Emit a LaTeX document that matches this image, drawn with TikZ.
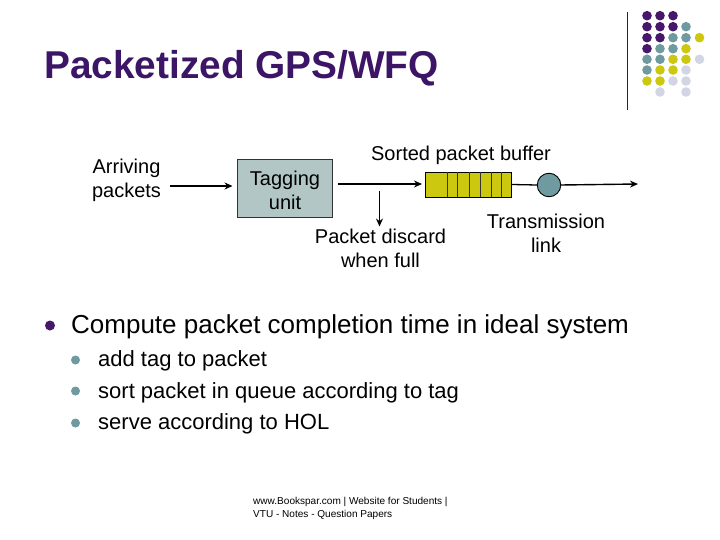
\documentclass[tikz,border=0pt]{standalone}
\usepackage{fontspec}
\setmainfont{Liberation Sans}
\usetikzlibrary{arrows.meta}
\definecolor{dpurple}{HTML}{47176B}
\definecolor{dteal}{HTML}{6F9A9F}
\definecolor{dyellow}{HTML}{CCC80F}
\definecolor{dlav}{HTML}{D3D5E5}
\definecolor{boxfill}{HTML}{B2C6C6}
\definecolor{titlecol}{HTML}{3D1566}
\tikzset{
  x=1pt,y=-1pt,
  label text/.style={align=center,font=\fontsize{20}{24}\selectfont,inner sep=0pt,text=black},
  flow/.style={line width=1.4pt,-{Stealth[length=8pt,width=7pt]}},
  plain line/.style={line width=1.3pt},
  dotp/.style={circle,fill=dpurple,minimum size=9.6pt,inner sep=0pt},
  dott/.style={circle,fill=dteal,minimum size=9.6pt,inner sep=0pt},
  doty/.style={circle,fill=dyellow,minimum size=9.6pt,inner sep=0pt},
  dotl/.style={circle,fill=dlav,minimum size=9.6pt,inner sep=0pt},
  body/.style={anchor=base west,inner sep=0pt,font=\fontsize{26}{30}\selectfont},
  sub/.style={anchor=base west,inner sep=0pt,font=\fontsize{22}{26}\selectfont},
}
\begin{document}
\begin{tikzpicture}
\useasboundingbox (0,0) rectangle (720,540);
\fill[white] (0,0) rectangle (720,540);
% decoration
\foreach \c/\r/\s in {647/15.7/dotp,660/15.7/dotp,673/15.7/dotp,
 647/26.7/dotp,660/26.7/dotp,673/26.7/dotp,686/26.7/dott,
 647/37.7/dotp,660/37.7/dotp,673/37.7/dott,686/37.7/dott,699.5/37.7/doty,
 647/48.7/dotp,660/48.7/dott,673/48.7/dott,686/48.7/doty,
 647/59.3/dott,660/59.3/dott,673/59.3/doty,686/59.3/doty,699.5/59.3/dotl,
 647/70/dott,660/70/doty,673/70/doty,686/70/dotl,
 647/81/doty,660/81/doty,673/81/dotl,686/81/dotl,
 660/92/dotl,686/92/dotl}
  {\node[\s] at (\c,\r) {};}
\coordinate (vt) at (627.5,12);
\coordinate (vb) at (627.5,110);
\draw[line width=0.8pt,black!85] (vt) -- (vb);
% title
\node[anchor=base west,inner sep=0pt,text=titlecol,font=\bfseries\fontsize{38.8}{42}\selectfont] (title) at (44,79) {Packetized GPS/WFQ};
% diagram
\node[label text] (arr) at (126.5,180.5) {Arriving\\packets};
\node[draw=black!80,line width=1.4pt,fill=boxfill,minimum width=95pt,minimum height=58pt,inner sep=0pt,align=center,font=\fontsize{20}{24}\selectfont] (tag) at (285,188.8) {\rule{0pt}{18.5pt}Tagging\\unit};
\node[label text] (sorted) at (461,155) {Sorted packet buffer};
\node[draw=black,line width=0.8pt,fill=dyellow,minimum width=86pt,minimum height=25pt,inner sep=0pt] (buf) at (468.5,184.5) {};
\foreach \d in {447.3,457.5,469.3,480,491.7,501.7}
  \draw[line width=0.7pt,black!80] (\d,172) -- (\d,197);
\node[circle,draw=black,line width=0.9pt,fill=dteal,minimum size=23.5pt,inner sep=0pt] (srv) at (549,185) {};
\node[label text] (disc) at (380.5,248) {Packet discard\\when full};
\node[label text] (trans) at (546,233) {Transmission\\link};
\coordinate (arrstart) at (170,186);
\coordinate (tagin) at (232.5,186);
\coordinate (tagout) at (338,184);
\coordinate (bufin) at (422,184);
\coordinate (dtop) at (379.5,191);
\coordinate (dbot) at (379.5,226.5);
\coordinate (outend) at (638,184);
\draw[flow] (arrstart) -- (tagin);
\draw[flow] (tagout) -- (bufin);
\draw[flow,line width=1.8pt] (dtop) -- (dbot);
\draw[plain line] (buf.east) -- (srv.west);
\draw[flow] (srv.east) -- (outend);
% bullets
\node[circle,fill=dpurple,minimum size=10pt,inner sep=0pt] (b0) at (50,325.5) {};
\node[body] (t0) at (71,333) {Compute packet completion time in ideal system};
\node[circle,fill=dteal,minimum size=9pt,inner sep=0pt] (b1) at (75.5,360) {};
\node[circle,fill=dteal,minimum size=9pt,inner sep=0pt] (b2) at (75.5,391) {};
\node[circle,fill=dteal,minimum size=9pt,inner sep=0pt] (b3) at (75.5,423) {};
\node[sub] (t1) at (98,366) {add tag to packet};
\node[sub] (t2) at (98,398) {sort packet in queue according to tag};
\node[sub] (t3) at (98,429) {serve according to HOL};
% footer
\node[anchor=north west,inner sep=0pt,align=left,font=\fontsize{10.05}{12.5}\selectfont] (foot) at (253,497.5) {www.Bookspar.com | Website for Students |\\VTU - Notes - Question Papers};
\end{tikzpicture}
\end{document}
